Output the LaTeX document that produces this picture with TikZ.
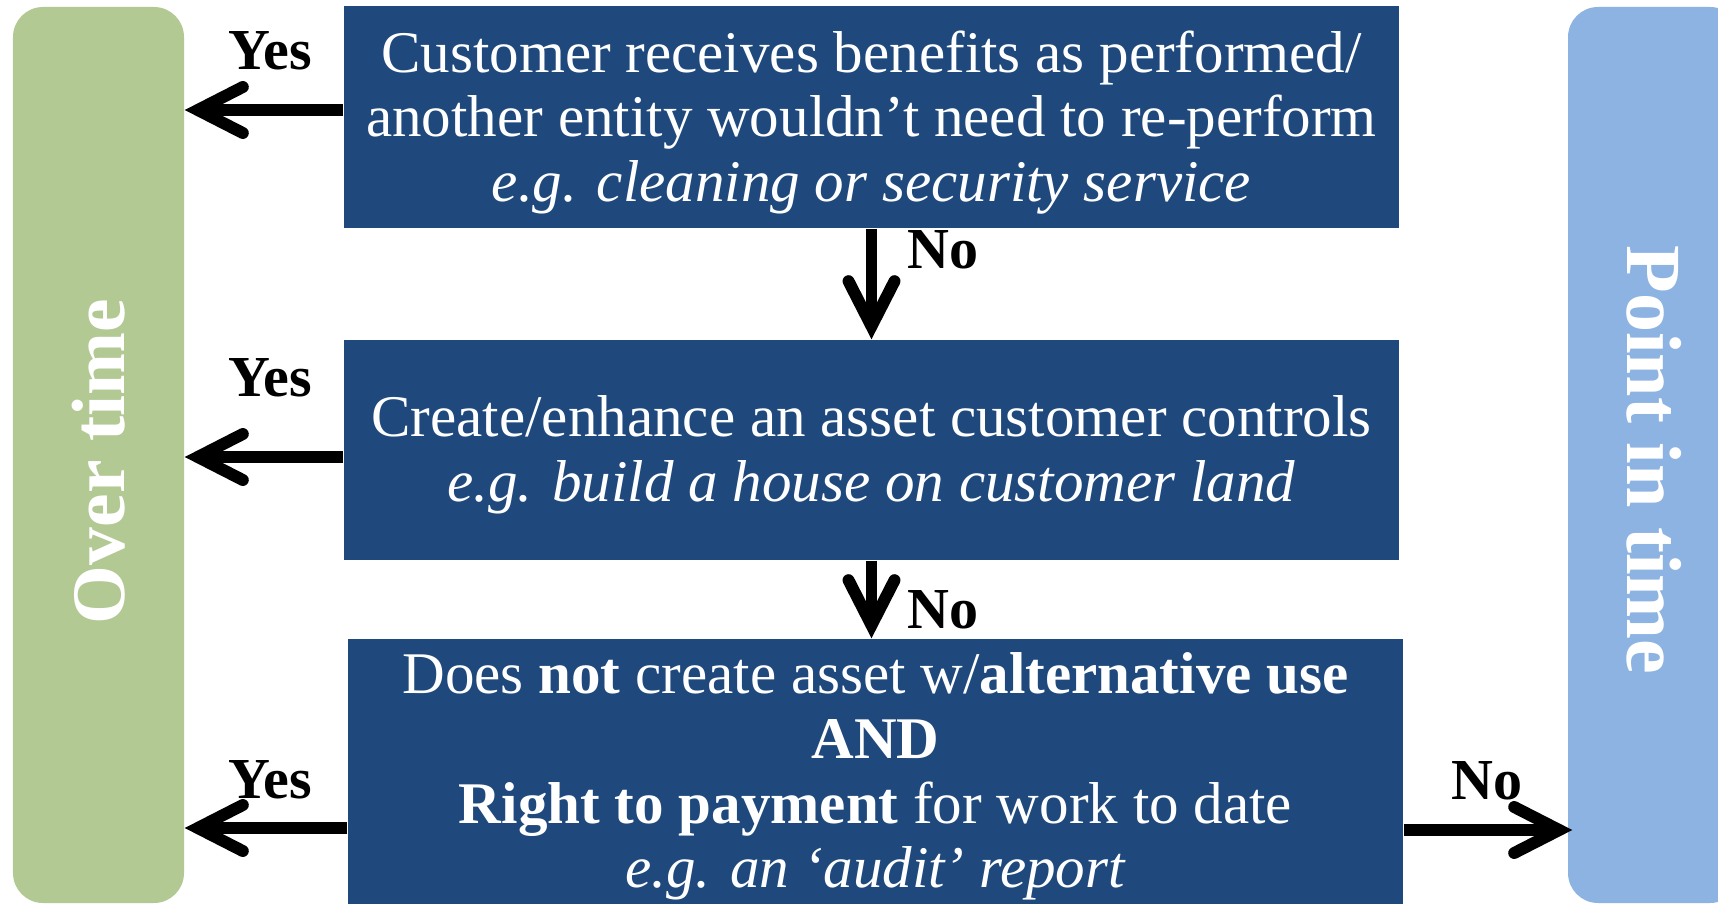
\documentclass[tikz,border=0pt]{standalone}
\usepackage{fontspec}
\setmainfont{Liberation Serif}
\usepackage{tikz}
\usetikzlibrary{arrows.meta,positioning,calc}
\definecolor{critblue}{RGB}{31,73,125}
\definecolor{overgreen}{RGB}{178,201,148}
\definecolor{pointblue}{RGB}{141,179,226}
\newcommand{\critlines}[2]{\raisebox{#1}[\height][\depth]{\begin{tabular}{@{}c@{}}#2\end{tabular}}}

\begin{document}
\begin{tikzpicture}[
    font=\fontsize{16.8}{18.4}\selectfont,
    box/.style={rectangle, fill=critblue, text=white, minimum width=10.55cm, align=center, inner sep=0pt},
    bar/.style={rectangle, rounded corners=0.3cm, minimum width=1.71cm, minimum height=8.96cm, text=white, font=\fontsize{21.5}{24}\selectfont\bfseries},
    answer/.style={font=\fontsize{16.5}{18}\selectfont\bfseries},
    arrow/.style={-{Straight Barb[length=4.5mm, width=4.6mm, line cap=round]}, line width=3.4pt, black}
]
    \useasboundingbox (0,0) rectangle (17.18,9.03);
    \clip (0,0) rectangle (17.18,9.03);

    % Outcome bars
    \node[bar, fill=overgreen] (overtime) at (0.985,4.48) {\rotatebox{90}{Over time\hspace*{0.13cm}}};
    \node[bar, fill=pointblue, minimum width=1.72cm, font=\fontsize{22.2}{24}\selectfont\bfseries] (pointtime) at (16.54,4.48) {\rotatebox{-90}{\hspace*{0.1cm}Point in time}};

    % Criteria
    \node[box, minimum height=2.22cm] (crit1) at (8.715,7.86) {\critlines{-0.07cm}{Customer receives benefits as performed/\\another entity wouldn’t need to re-perform\\\textit{e.g. cleaning or security service}}};
    \node[box, minimum height=2.20cm] (crit2) at (8.715,4.53) {\critlines{-0.06cm}{Create/enhance an asset customer controls\\\textit{e.g. build a house on customer land}}};
    \node[box, minimum height=2.70cm] (crit3) at (8.755,1.29) {\critlines{-0.04cm}{Does \textbf{not} create asset w/\textbf{alternative use}\\\textbf{AND}\\\textbf{Right to payment} for work to date\\\textit{e.g. an ‘audit’ report}}};

    % Answers
    \node[answer] (yes1) at (2.70,8.52) {Yes};
    \node[answer] (yes2) at (2.70,5.25) {Yes};
    \node[answer] (yes3) at (2.70,1.23) {Yes};
    \node[answer] (no1) at (9.43,6.53) {No};
    \node[answer] (no2) at (9.43,2.93) {No};
    \node[answer] (no3) at (14.87,1.22) {No};

    % Flow
    \draw[arrow] ([yshift=0.07cm]crit1.west) -- ([yshift=0.07cm]crit1.west -| overtime.east);
    \draw[arrow] ([yshift=-0.07cm]crit2.west) -- ([yshift=-0.07cm]crit2.west -| overtime.east);
    \draw[arrow] ([yshift=-0.54cm]crit3.west) -- ([yshift=-0.54cm]crit3.west -| overtime.east);
    \draw[arrow, shorten >=-0.05cm] ([yshift=-0.56cm]crit3.east) -- ([yshift=-0.56cm]crit3.east -| pointtime.west);
    \draw[arrow] (crit1.south) -- (crit2.north);
    \draw[arrow] (crit2.south) -- (crit2.south |- crit3.north);
\end{tikzpicture}
\end{document}
